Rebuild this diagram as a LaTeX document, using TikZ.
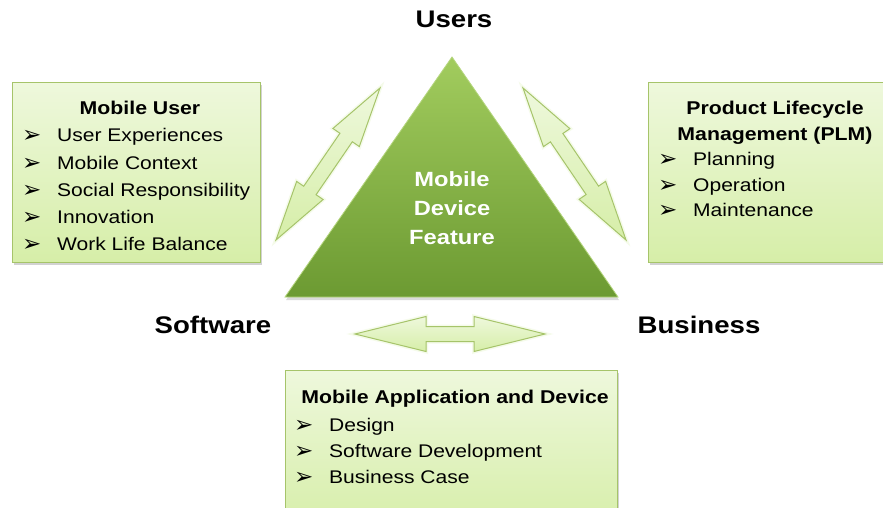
\documentclass[tikz,border=0pt]{standalone}
\usepackage{fontspec}
\setmainfont{Liberation Sans}[FakeStretch=1.15]
\newfontfamily\dingfont{DejaVu Sans}
\usetikzlibrary{calc,shadows}

\definecolor{boxtop}{HTML}{EEF8DC}
\definecolor{boxbot}{HTML}{D6EEA8}
\definecolor{boxline}{HTML}{A6C46A}
\definecolor{tritop}{HTML}{A2CC5E}
\definecolor{tribot}{HTML}{6C9A32}

\def\hl{60pt}
\def\hw{16pt}
\def\sw{7.5pt}
\newcommand{\itm}{\makebox[35pt][l]{\raisebox{-1pt}{\dingfont\fontsize{23}{23}\selectfont ➢}}}
% double block arrow between two named points
\newcommand{\dblarrow}[2]{%
  \draw[blockarrow] (#1)
    -- ($(#1)!\hl!(#2)!\hw!90:(#2)$) -- ($(#1)!\hl!(#2)!\sw!90:(#2)$)
    -- ($(#2)!\hl!(#1)!\sw!-90:(#1)$) -- ($(#2)!\hl!(#1)!\hw!-90:(#1)$)
    -- (#2)
    -- ($(#2)!\hl!(#1)!\hw!90:(#1)$) -- ($(#2)!\hl!(#1)!\sw!90:(#1)$)
    -- ($(#1)!\hl!(#2)!\sw!-90:(#2)$) -- ($(#1)!\hl!(#2)!\hw!-90:(#2)$)
    -- cycle;}

\begin{document}
\begin{tikzpicture}[x=1pt,y=-1pt,
  infobox/.style={draw=boxline,line width=1.2pt,top color=boxtop,bottom color=boxbot,
    drop shadow={opacity=.35,shadow xshift=1.5pt,shadow yshift=-2pt},anchor=north west,inner sep=0pt},
  blockarrow/.style={draw=boxline,line width=1pt,top color=boxtop,bottom color=boxbot,line join=miter,
    preaction={draw=boxtop!60,line width=4pt}},
  item/.style={anchor=base west,inner sep=0pt,font=\fontsize{18.3}{22}\selectfont},
  head/.style={anchor=base,inner sep=0pt,align=center,font=\bfseries\fontsize{18.5}{25}\selectfont},
  side/.style={anchor=base,inner sep=0pt,font=\bfseries\fontsize{24}{28}\selectfont}]
  \clip (0,0) rectangle (883,508);
  \fill[white] (0,0) rectangle (883,508);

  % triangle
  \coordinate (top) at (452,57);
  \coordinate (bl) at (285,297);
  \coordinate (br) at (618,297);
  \fill[black!40,opacity=.35] ($(top)+(1,3)$) -- ($(bl)+(1,3)$) -- ($(br)+(1,3)$) -- cycle;
  \draw[draw=tritop!80!white,line width=.8pt,top color=tritop,bottom color=tribot] (top) -- (bl) -- (br) -- cycle;
  \node[align=center,white,inner sep=0pt,font=\bfseries\fontsize{20.6}{29}\selectfont] (feat) at (452,208)
    {Mobile\\Device\\Feature};

  % labels
  \node[side] (users) at (454,28) {Users};
  \node[side] (soft) at (213,333) {Software};
  \node[side] (bus) at (699,333) {Business};

  % boxes
  \node[infobox,minimum width=248pt,minimum height=180pt] (mu) at (12,82) {};
  \node[infobox,minimum width=260pt,minimum height=180pt] (plm) at (648,82) {};
  \node[infobox,minimum width=332pt,minimum height=160pt] (mad) at (285,370) {};

  \node[head] (mu-t) at (140,115) {Mobile User};
  \foreach \t [count=\i] in {User Experiences,Mobile Context,Social Responsibility,Innovation,Work Life Balance}
    \node[item] (mu-\i) at (22,115+27*\i) {\itm\t};

  \node[head] (plm-t) at (775,140) {Product Lifecycle\\Management (PLM)};
  \foreach \t [count=\i] in {Planning,Operation,Maintenance}
    \node[item] (plm-\i) at (658,140+25.5*\i) {\itm\t};

  \node[head] (mad-t) at (455,403) {Mobile Application and Device};
  \foreach \t [count=\i] in {Design,Software Development,Business Case}
    \node[item] (mad-\i) at (294,406+25.7*\i) {\itm\t};

  % arrows
  \coordinate (la1) at (276,240);
  \coordinate (la2) at (380,88);
  \coordinate (ra1) at (523,88);
  \coordinate (ra2) at (626,240);
  \dblarrow{la1}{la2}
  \dblarrow{ra1}{ra2}
  \def\hl{71pt}
  \def\hw{17.5pt}
  \coordinate (ba1) at (355,334);
  \coordinate (ba2) at (545,334);
  \dblarrow{ba1}{ba2}
\end{tikzpicture}
\end{document}
